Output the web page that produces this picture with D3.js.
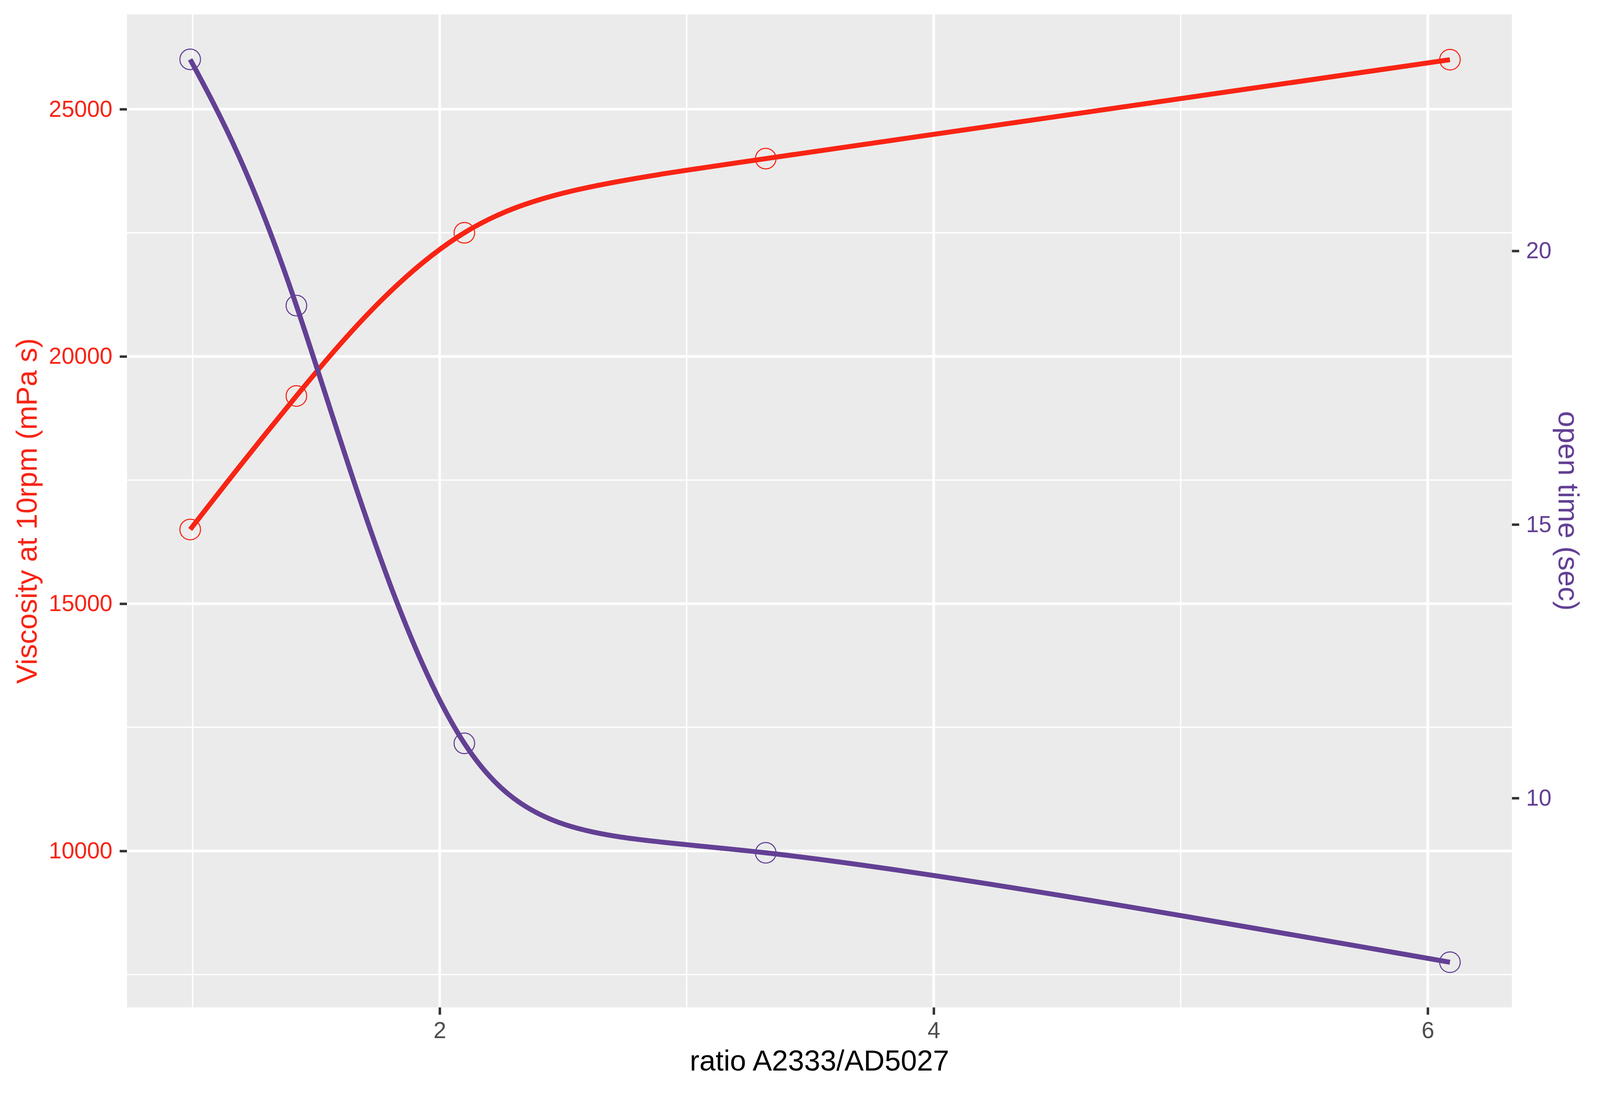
<!DOCTYPE html>
<html>
<head>
<meta charset="utf-8">
<script src="https://cdn.jsdelivr.net/npm/d3@7"></script>
<style>
  html, body { margin: 0; padding: 0; background: #ffffff; overflow: hidden; }
  svg { display: block; width: 100vw; height: 100vh; }
  text { font-family: "Liberation Sans", Arial, sans-serif; }
</style>
</head>
<body>
<div id="chart"></div>
<script>
// Viscosity and open time against the A2333/AD5027 ratio (dual y axis)

// data
var ratio = [0.99, 1.42, 2.1, 3.32, 6.09];
var viscosity = [16500, 19200, 22500, 24000, 26000];
var openTime = [23.5, 19, 11, 9, 7];

// tick values
var xTicks = [2, 4, 6];
var xMinor = [1, 3, 5];
var yLeftTicks = [10000, 15000, 20000, 25000];
var yLeftMinor = [7500, 12500, 17500, 22500];
var yRightTicks = [10, 15, 20];

var redCol = "#F82414";
var purpleCol = "#634094";

var W = 4197, H = 2864;
var panel = { left: 333, right: 3966, top: 38, bottom: 2642 };

// viewBox keeps the whole drawing inside the window whatever its css size
var svg = d3
  .select("#chart")
  .append("svg")
  .attr("viewBox", "0 0 " + W + " " + H)
  .attr("preserveAspectRatio", "xMidYMin meet");

// scales (domains include the ggplot style 5% padding)
var xScale = d3.scaleLinear().domain([0.734, 6.341]).range([panel.left, panel.right]);
var yLeft = d3.scaleLinear().domain([6836, 26914]).range([panel.bottom, panel.top]);
var yRight = d3.scaleLinear().domain([6.174, 24.32]).range([panel.bottom, panel.top]);

// panel background
svg
  .append("rect")
  .attr("x", panel.left)
  .attr("y", panel.top)
  .attr("width", panel.right - panel.left)
  .attr("height", panel.bottom - panel.top)
  .attr("fill", "#EBEBEB");

// minor grid
svg
  .selectAll(".hminor")
  .data(yLeftMinor)
  .enter()
  .append("line")
  .attr("x1", panel.left)
  .attr("x2", panel.right)
  .attr("y1", function(d) { return yLeft(d); })
  .attr("y2", function(d) { return yLeft(d); })
  .attr("stroke", "#ffffff")
  .attr("stroke-width", 3.5);

svg
  .selectAll(".vminor")
  .data(xMinor)
  .enter()
  .append("line")
  .attr("y1", panel.top)
  .attr("y2", panel.bottom)
  .attr("x1", function(d) { return xScale(d); })
  .attr("x2", function(d) { return xScale(d); })
  .attr("stroke", "#ffffff")
  .attr("stroke-width", 3.5);

// major grid
svg
  .selectAll(".hmajor")
  .data(yLeftTicks)
  .enter()
  .append("line")
  .attr("x1", panel.left)
  .attr("x2", panel.right)
  .attr("y1", function(d) { return yLeft(d); })
  .attr("y2", function(d) { return yLeft(d); })
  .attr("stroke", "#ffffff")
  .attr("stroke-width", 7);

svg
  .selectAll(".vmajor")
  .data(xTicks)
  .enter()
  .append("line")
  .attr("y1", panel.top)
  .attr("y2", panel.bottom)
  .attr("x1", function(d) { return xScale(d); })
  .attr("x2", function(d) { return xScale(d); })
  .attr("stroke", "#ffffff")
  .attr("stroke-width", 7);

// axes
function styleAxis(g, col) {
  g.select(".domain").remove();
  g.selectAll(".tick line").attr("stroke", "#333333").attr("stroke-width", 6.5);
  g.selectAll(".tick text")
    .attr("fill", col)
    .style("font-size", "60px")
    .style("font-family", "'Liberation Sans', Arial, sans-serif");
}

svg
  .append("g")
  .attr("transform", "translate(0," + panel.bottom + ")")
  .call(d3.axisBottom(xScale).tickValues(xTicks).tickFormat(d3.format("d")).tickSize(19).tickPadding(19))
  .call(styleAxis, "#4D4D4D");

svg
  .append("g")
  .attr("transform", "translate(" + panel.left + ",0)")
  .call(d3.axisLeft(yLeft).tickValues(yLeftTicks).tickFormat(d3.format("d")).tickSize(19).tickPadding(19))
  .call(styleAxis, redCol);

svg
  .append("g")
  .attr("transform", "translate(" + panel.right + ",0)")
  .call(d3.axisRight(yRight).tickValues(yRightTicks).tickFormat(d3.format("d")).tickSize(19).tickPadding(18))
  .call(styleAxis, purpleCol);

// points
var rows = ratio.map(function(r, i) {
  return { x: r, v: viscosity[i], t: openTime[i] };
});

svg
  .selectAll(".dot-visc")
  .data(rows)
  .enter()
  .append("circle")
  .attr("cx", function(d) { return xScale(d.x); })
  .attr("cy", function(d) { return yLeft(d.v); })
  .attr("r", 27)
  .attr("fill", "none")
  .attr("stroke", redCol)
  .attr("stroke-width", 2.8);

svg
  .selectAll(".dot-time")
  .data(rows)
  .enter()
  .append("circle")
  .attr("cx", function(d) { return xScale(d.x); })
  .attr("cy", function(d) { return yRight(d.t); })
  .attr("r", 27)
  .attr("fill", "none")
  .attr("stroke", purpleCol)
  .attr("stroke-width", 2.8);

// smoothed lines through the points
var lineVisc = d3
  .line()
  .x(function(d) { return xScale(d.x); })
  .y(function(d) { return yLeft(d.v); })
  .curve(d3.curveNatural);

var lineTime = d3
  .line()
  .x(function(d) { return xScale(d.x); })
  .y(function(d) { return yRight(d.t); })
  .curve(d3.curveNatural);

svg
  .append("path")
  .datum(rows)
  .attr("d", lineVisc)
  .attr("fill", "none")
  .attr("stroke", redCol)
  .attr("stroke-width", 13);

svg
  .append("path")
  .datum(rows)
  .attr("d", lineTime)
  .attr("fill", "none")
  .attr("stroke", purpleCol)
  .attr("stroke-width", 13);

// axis titles
svg
  .append("text")
  .attr("x", (panel.left + panel.right) / 2)
  .attr("y", 2808)
  .attr("text-anchor", "middle")
  .style("font-size", "76px")
  .attr("fill", "#000000")
  .text("ratio A2333/AD5027");

svg
  .append("text")
  .attr("transform", "translate(96," + (panel.top + panel.bottom) / 2 + ") rotate(-90)")
  .attr("text-anchor", "middle")
  .style("font-size", "76px")
  .attr("fill", redCol)
  .text("Viscosity at 10rpm (mPa s)");

svg
  .append("text")
  .attr("transform", "translate(4088," + (panel.top + panel.bottom) / 2 + ") rotate(90)")
  .attr("text-anchor", "middle")
  .style("font-size", "76px")
  .attr("fill", purpleCol)
  .text("open time (sec)");
</script>
</body>
</html>
